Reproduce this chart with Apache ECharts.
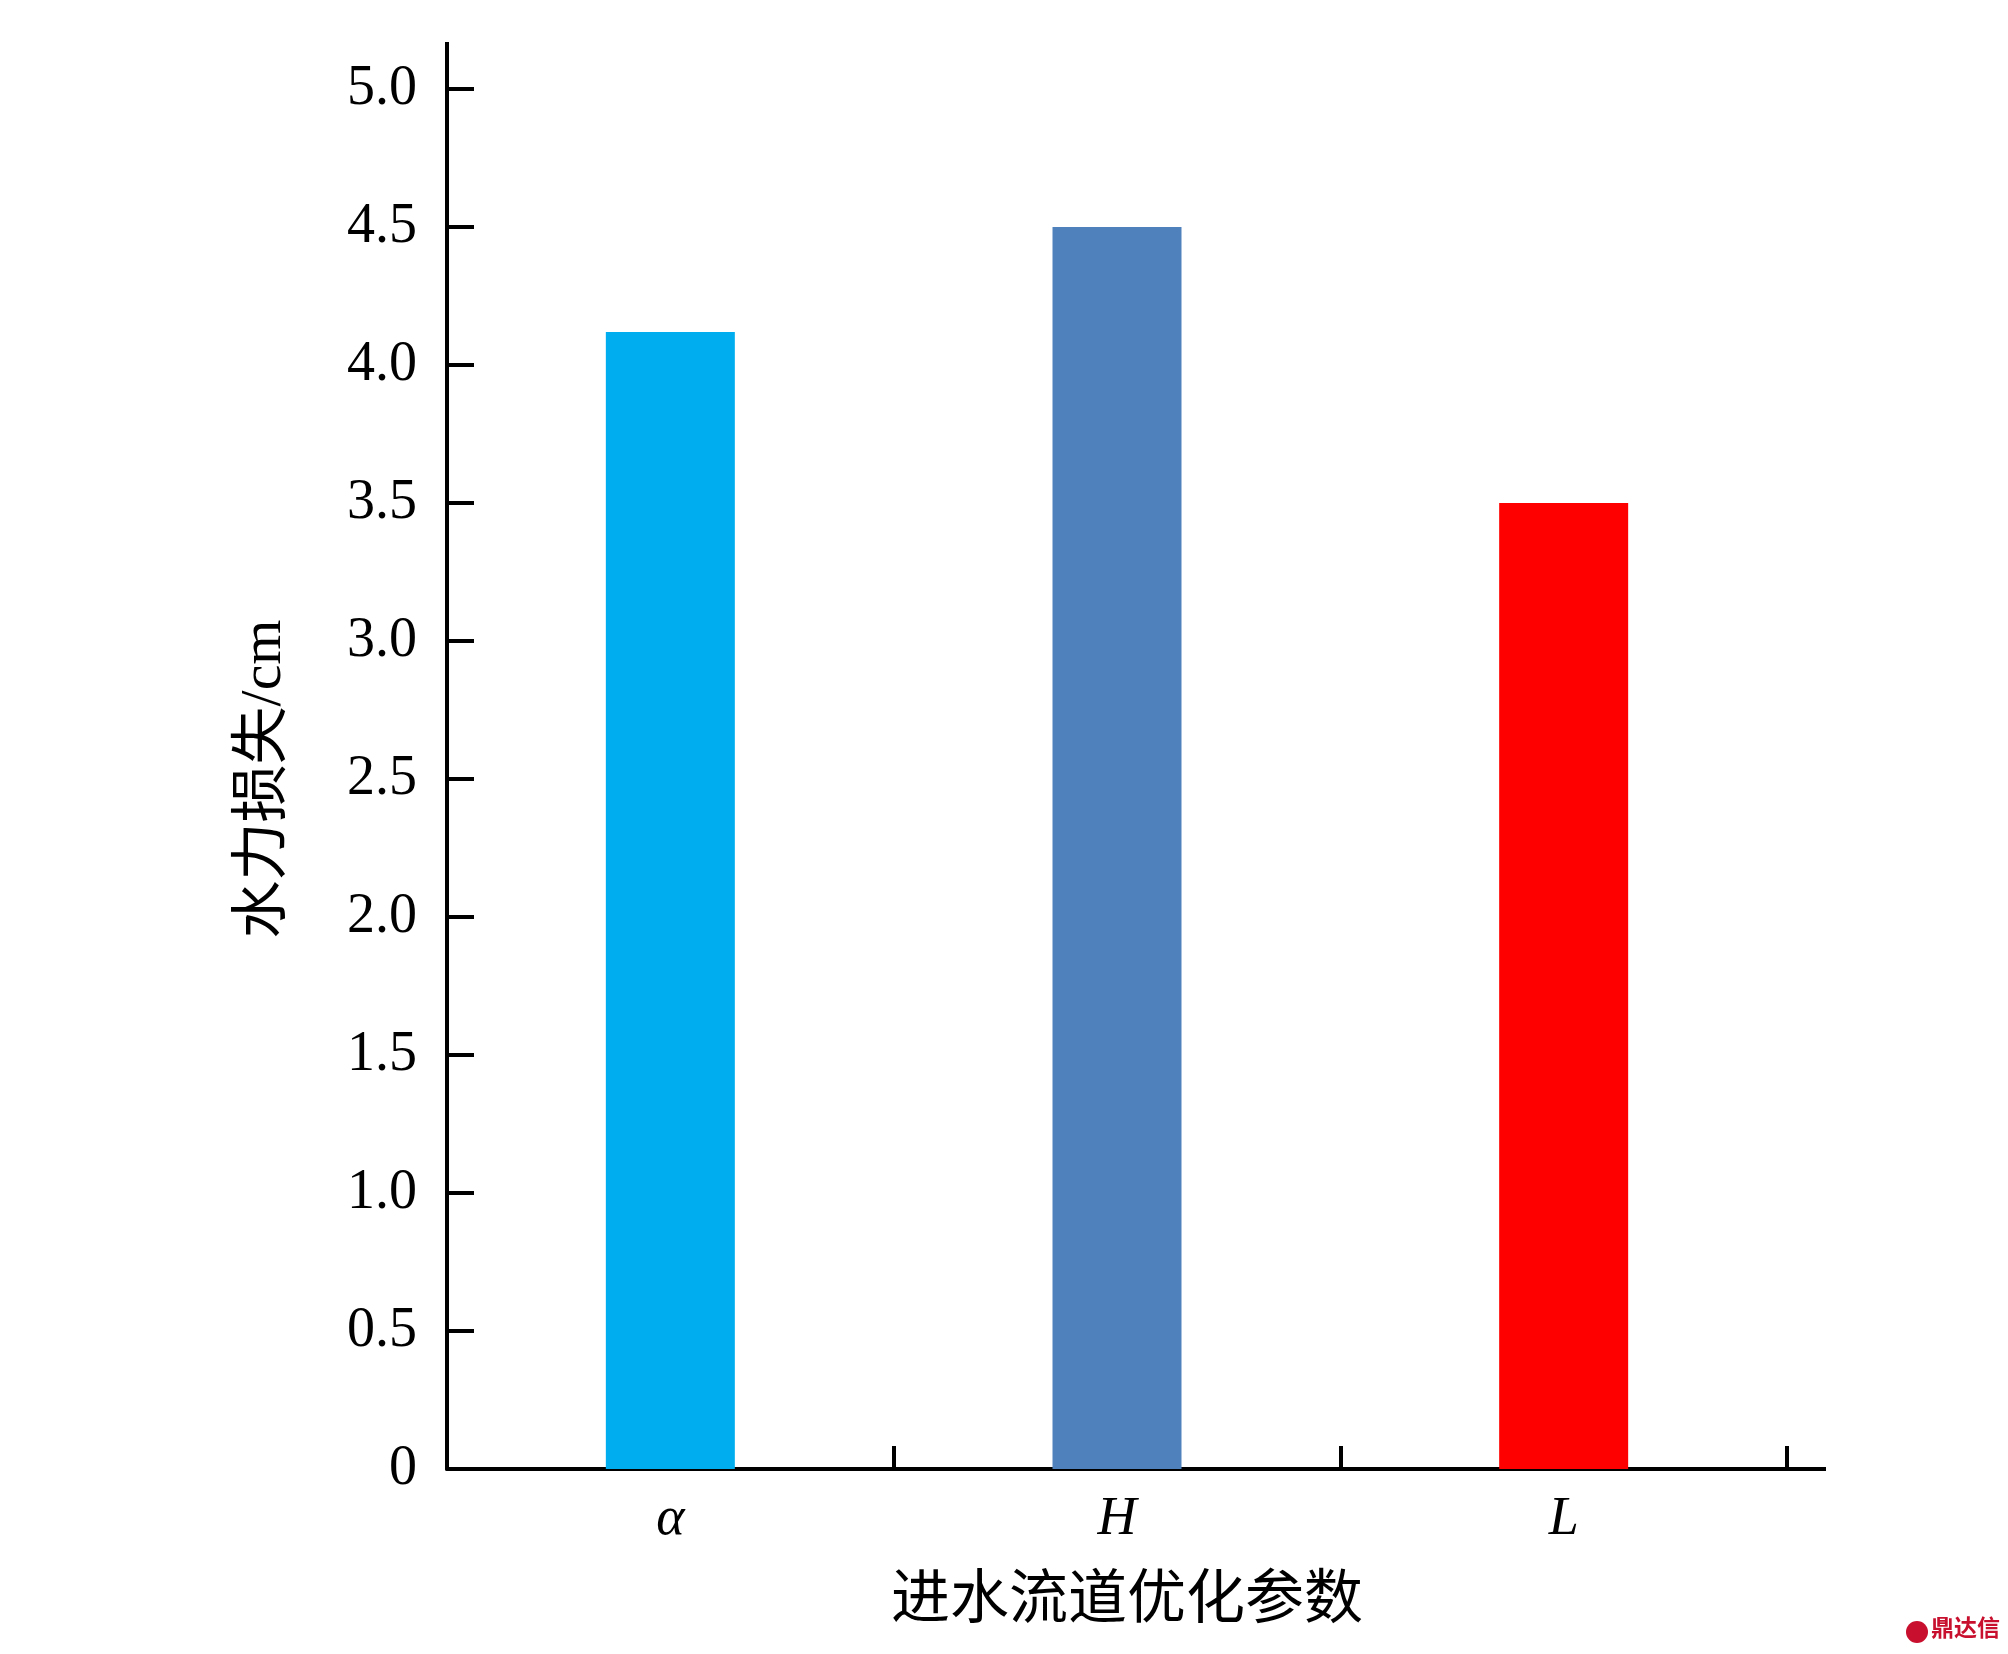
<!DOCTYPE html>
<html>
<head>
<meta charset="utf-8">
<script src="https://cdn.jsdelivr.net/npm/echarts@6/dist/echarts.min.js"></script>
<style>
html,body{margin:0;padding:0;background:#fff;}
#chart{width:2008px;height:1654px;}
</style>
</head>
<body>
<div id="chart"></div>
<script>
// ---- data ----
const categories = ['α', 'H', 'L'];
const values = [4.12, 4.50, 3.50];
const yTickValues = [0, 0.5, 1.0, 1.5, 2.0, 2.5, 3.0, 3.5, 4.0, 4.5, 5.0];
const xAxisTitle = '进水流道优化参数';
const yAxisTitle = '水力损失/cm';
const watermark = '鼎达信';

// ---- styles ----
const barColors = ['#00AEEF', '#4F81BD', '#FF0000'];
const serif = 'Liberation Serif, Times New Roman, serif';
const cjk = 'Liberation Serif, Noto Sans CJK SC, serif';

const chart = echarts.init(document.getElementById('chart'), null, {renderer: 'canvas'});

const option = {
  backgroundColor: '#ffffff',
  animation: false,
  grid: {left: 447, right: 221, top: 89, bottom: 185, containLabel: false},
  xAxis: {
    type: 'category',
    data: categories,
    boundaryGap: true,
    name: xAxisTitle,
    nameLocation: 'middle',
    nameGap: 104,
    nameTextStyle: {fontFamily: cjk, fontSize: 59, color: '#000', padding: [0, 0, 0, 20]},
    axisLine: {show: true, lineStyle: {color: '#000', width: 4}},
    axisTick: {show: true, inside: true, length: 23, alignWithLabel: false, interval: 0,
               lineStyle: {color: '#000', width: 4}},
    axisLabel: {show: true, margin: 24, fontFamily: serif, fontStyle: 'italic', fontSize: 54, color: '#000'},
    splitLine: {show: false}
  },
  yAxis: {
    type: 'value',
    min: 0,
    max: 5,
    interval: 0.5,
    name: yAxisTitle,
    nameLocation: 'middle',
    nameGap: 153,
    nameRotate: 90,
    nameTextStyle: {fontFamily: cjk, fontSize: 58, color: '#000'},
    axisLine: {show: true, lineStyle: {color: '#000', width: 4}},
    axisTick: {show: true, inside: true, length: 27, lineStyle: {color: '#000', width: 4}},
    axisLabel: {
      show: true, margin: 30, fontFamily: serif, fontSize: 56, color: '#000',
      formatter: function (v) {
        const t = yTickValues.find(x => Math.abs(x - v) < 1e-9);
        if (t === undefined) return '';
        return t === 0 ? '0' : t.toFixed(1);
      }
    },
    splitLine: {show: false}
  },
  series: [{
    type: 'bar',
    data: values.map((v, i) => ({value: v, itemStyle: {color: barColors[i]}})),
    barWidth: 129,
    z: 1
  }]
};
chart.setOption(option);

// axis line extensions beyond the plotted range (decoration only)
const yTop = chart.convertToPixel({yAxisIndex: 0}, 5);
const yZero = chart.convertToPixel({yAxisIndex: 0}, 0);
const gridLeft = 447;
const gridRight = 2008 - 221;
chart.setOption({
  graphic: [
    {type: 'line', shape: {x1: gridLeft, y1: yTop + 2, x2: gridLeft, y2: 42},
     style: {stroke: '#000', lineWidth: 4}, z: 10},
    {type: 'line', shape: {x1: gridRight - 2, y1: yZero, x2: 1826, y2: yZero},
     style: {stroke: '#000', lineWidth: 4}, z: 10},
    {type: 'circle', shape: {cx: 1917, cy: 1632, r: 11},
     style: {fill: '#C8102E'}},
    {type: 'text', left: 1931, top: 1616,
     style: {text: watermark, fontSize: 23, fontWeight: 'bold', fill: '#C8102E',
             fontFamily: 'Noto Sans CJK SC'}}
  ]
});
</script>
</body>
</html>
